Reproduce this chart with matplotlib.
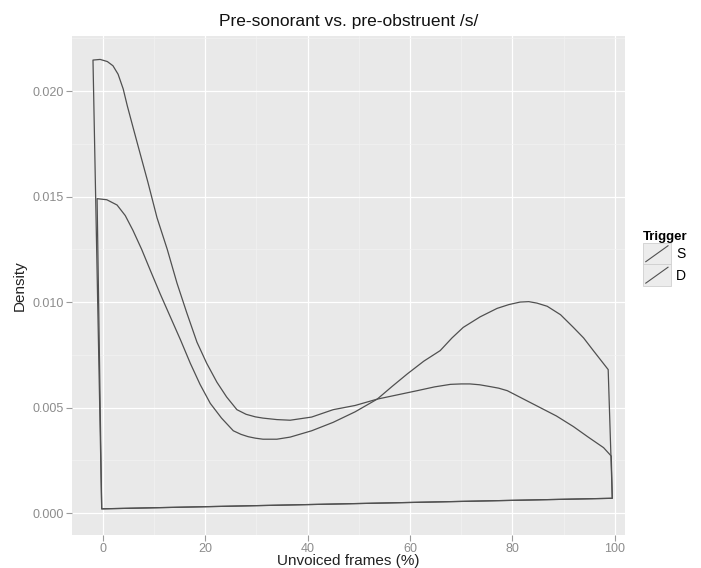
import matplotlib
matplotlib.use("Agg")
import matplotlib.pyplot as plt
from matplotlib.legend_handler import HandlerBase
from matplotlib.lines import Line2D
from matplotlib.patches import Rectangle
from matplotlib.ticker import MultipleLocator

# density outlines (x in %, y = density)
s_x = [-1.9, -0.5, 0.9, 2.0, 3.0, 4.0, 4.8, 5.9, 6.9, 8.8, 10.6, 12.6, 14.5,
       16.4, 18.4, 20.3, 22.3, 24.2, 26.2, 28.0, 29.8, 31.3, 34.0, 36.6, 40.8,
       45.0, 49.3, 53.6, 57.5, 61.4, 64.8, 67.9, 70.0, 71.7, 73.6, 75.5, 77.3,
       79.0, 80.6, 82.2, 85.4, 88.6, 91.9, 94.8, 97.8, 99.3]
s_y = [0.02147, 0.02150, 0.02140, 0.0212, 0.0208, 0.0201, 0.0193, 0.0183,
       0.0174, 0.0157, 0.0140, 0.0125, 0.0109, 0.0095, 0.0081, 0.0071, 0.0062,
       0.0055, 0.0049, 0.00468, 0.00456, 0.0045, 0.00443, 0.0044, 0.00455,
       0.0049, 0.0051, 0.0054, 0.0056, 0.0058, 0.00598, 0.0061, 0.00612,
       0.00612, 0.00608, 0.0060, 0.00592, 0.0058, 0.0056, 0.0054, 0.0050,
       0.0046, 0.0041, 0.0036, 0.0031, 0.0027]

d_x = [-1.1, 0.8, 2.8, 4.4, 5.9, 7.6, 9.3, 11.2, 13.2, 15.2, 17.1, 19.0, 21.0,
       23.2, 25.5, 27.0, 28.4, 29.8, 31.3, 34.0, 36.6, 40.8, 45.0, 49.3, 53.6,
       56.5, 59.5, 62.7, 65.9, 68.2, 70.4, 73.7, 77.0, 79.3, 81.5, 83.2, 84.8,
       86.8, 89.4, 91.9, 93.9, 95.8, 98.7]
d_y = [0.0149, 0.01485, 0.0146, 0.0141, 0.0134, 0.0125, 0.0115, 0.0104, 0.0093,
       0.0082, 0.0071, 0.0061, 0.0052, 0.0045, 0.0039, 0.00373, 0.00362,
       0.00355, 0.0035, 0.0035, 0.0036, 0.0039, 0.0043, 0.0048, 0.0054, 0.0060,
       0.0066, 0.0072, 0.0077, 0.0083, 0.0088, 0.0093, 0.0097, 0.00988, 0.0100,
       0.01002, 0.00995, 0.0098, 0.0094, 0.0088, 0.0083, 0.0077, 0.0068]

# bottom edge of the outlines (slightly tilted in the scan)
base_x = [-0.2, 99.5]
base_y = [0.0002, 0.0007]

groups = ["S", "D"]
line_col = "#505050"

fig = plt.figure(figsize=(7.01, 5.68), dpi=100)
ax = fig.add_axes([0.1027, 0.0581, 0.789, 0.8785])
ax.set_facecolor("#e9e9e9")

for xs, ys in [(s_x, s_y), (d_x, d_y)]:
    px = [base_x[0]] + xs + [base_x[1]]
    py = [base_y[0]] + ys + [base_y[1]]
    ax.fill(px, py, fill=False, edgecolor=line_col, lw=0.9, zorder=3,
            joinstyle="round")

ax.set_xlim(-6.0, 102.0)
ax.set_ylim(-0.00104, 0.02261)
ax.xaxis.set_major_locator(MultipleLocator(20))
ax.xaxis.set_minor_locator(MultipleLocator(10))
ax.yaxis.set_minor_locator(MultipleLocator(0.0025))
ax.set_yticks([0, 0.005, 0.01, 0.015, 0.02])
ax.set_yticklabels(["0.000", "0.005", "0.010", "0.015", "0.020"])
ax.grid(which="major", color="white", lw=0.9)
ax.grid(which="minor", color="#f3f3f3", lw=0.5)
ax.set_axisbelow(True)
for sp in ax.spines.values():
    sp.set_visible(False)
ax.tick_params(which="major", length=4, color="#9a9a9a", labelcolor="#8c8c8c",
               labelsize=9, pad=2)
ax.tick_params(which="minor", length=0)
for lab in ax.get_xticklabels() + ax.get_yticklabels():
    lab.set_family("Liberation Sans")

ax.set_xlabel("Unvoiced frames (%)", family="Liberation Sans", fontsize=11,
              color="#222222", labelpad=-1)
ax.set_ylabel("Density", family="Liberation Sans", fontsize=11,
              color="#222222", labelpad=4)
ax.set_title("Pre-sonorant vs. pre-obstruent /s/", family="Liberation Sans",
             fontsize=12.5, color="#111111", pad=7)


class DiagHandler(HandlerBase):
    def create_artists(self, legend, orig_handle, xdescent, ydescent,
                       width, height, fontsize, trans):
        x0, y0 = -xdescent, -ydescent
        box = Rectangle((x0, y0), width, height, facecolor="#ececec",
                        edgecolor="#cfcfcf", lw=0.6, transform=trans)
        diag = Line2D([x0 + 2, x0 + width - 2], [y0 + 2, y0 + height - 2],
                      color=line_col, lw=0.8, transform=trans)
        return [box, diag]


handles = [Line2D([], []) for _ in groups]
leg = fig.legend(handles, groups, title="Trigger", loc="upper left",
                 bbox_to_anchor=(643 / 701, 1 - 231 / 568), frameon=False,
                 handler_map={Line2D: DiagHandler()}, handlelength=2.0,
                 handleheight=2.0, labelspacing=0.0, handletextpad=0.4,
                 borderpad=0, borderaxespad=0, alignment="left",
                 prop={"family": "Liberation Sans", "size": 10})
leg.get_title().set_fontproperties({"family": "Liberation Sans", "size": 9.5,
                                    "weight": "bold"})

fig.savefig("out.png", dpi=100, facecolor="white")
